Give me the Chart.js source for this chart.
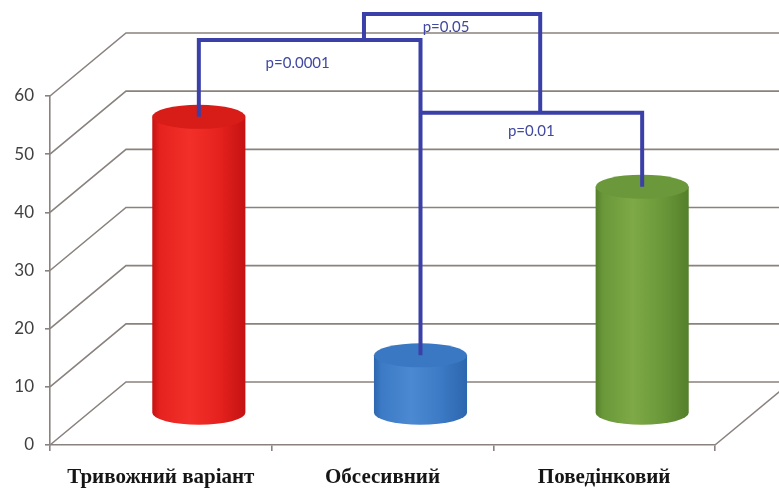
<!DOCTYPE html>
<html>
<head>
<meta charset="utf-8">
<script src="https://cdn.jsdelivr.net/npm/chart.js@4/dist/chart.umd.min.js"></script>
<style>
  html, body { margin: 0; padding: 0; background: #fff; }
</style>
</head>
<body>
<canvas id="c" width="779" height="495"></canvas>
<script>
// Дані діаграми
var categories = ['Тривожний варіант', 'Обсесивний', 'Поведінковий'];
var values = [51, 10, 39];
var yTicks = [0, 10, 20, 30, 40, 50, 60];

// Рівні значущості: підписи та висота дужок (в одиницях осі Y)
var pLabels = ['p=0.0001', 'p=0.05', 'p=0.01'];
var pLevels = [64.2, 68.7, 51.7];

// Кольори циліндрів: край, світла смуга, верх
var cylColors = [
  { edge: '#c41212', light: '#f23029', mid: '#e6221e', top: '#d81c18' },
  { edge: '#2c66ae', light: '#4b8ad2', mid: '#3c7ac5', top: '#3a78c3' },
  { edge: '#557f2b', light: '#7ea946', mid: '#6a9839', top: '#6a983b' }
];

var gridColor = '#8a827f';
var bracketColor = '#3b40a8';
var DX = 76, DY = -63;   // зсув задньої стінки (псевдо-3D)

var wall = {
  id: 'wall',
  beforeDatasetsDraw: function(chart) {
    var ctx = chart.ctx, a = chart.chartArea, y = chart.scales.y;
    ctx.save();
    ctx.strokeStyle = gridColor;
    ctx.lineWidth = 1.6;
    yTicks.forEach(function(v) {
      var py = y.getPixelForValue(v);
      ctx.beginPath();
      ctx.moveTo(a.left, py);
      ctx.lineTo(a.left + DX, py + DY);
      ctx.lineTo(chart.width, py + DY);
      ctx.stroke();
    });
    // права грань підлоги
    ctx.beginPath();
    ctx.moveTo(a.right, a.bottom);
    ctx.lineTo(a.right + DX, a.bottom + DY);
    ctx.stroke();
    ctx.restore();
  },
  afterDatasetsDraw: function(chart) {
    var ctx = chart.ctx;
    var meta = chart.getDatasetMeta(0);
    meta.data.forEach(function(bar, i) {
      var c = cylColors[i];
      var cx = bar.x + DX / 2, rx = bar.width / 2, ry = 12;
      var top = bar.y + DY / 2, bot = bar.base + DY / 2;
      var g = ctx.createLinearGradient(cx - rx, 0, cx + rx, 0);
      g.addColorStop(0, c.edge);
      g.addColorStop(0.08, c.mid);
      g.addColorStop(0.4, c.light);
      g.addColorStop(0.72, c.mid);
      g.addColorStop(1, c.edge);
      ctx.save();
      ctx.fillStyle = g;
      ctx.beginPath();
      ctx.moveTo(cx - rx, top);
      ctx.lineTo(cx - rx, bot);
      ctx.ellipse(cx, bot, rx, ry, 0, Math.PI, 0, true);
      ctx.lineTo(cx + rx, top);
      ctx.closePath();
      ctx.fill();
      ctx.fillStyle = c.top;
      ctx.beginPath();
      ctx.ellipse(cx, top, rx, ry, 0, 0, Math.PI * 2);
      ctx.fill();
      ctx.restore();
    });
  },
  afterDraw: function(chart) {
    var ctx = chart.ctx, y = chart.scales.y;
    var bars = chart.getDatasetMeta(0).data;
    var t = bars.map(function(b) { return { x: b.x + DX / 2, y: b.y + DY / 2 }; });
    var L = pLevels.map(function(v) { return y.getPixelForValue(v) + DY / 2; });
    var xa = t[0].x + 0.745 * (t[1].x - t[0].x);
    var xb = t[1].x + 0.54 * (t[2].x - t[1].x);

    ctx.save();
    ctx.strokeStyle = bracketColor;
    ctx.lineWidth = 4;
    ctx.beginPath();
    ctx.moveTo(t[0].x, t[0].y);
    ctx.lineTo(t[0].x, L[0]);
    ctx.lineTo(t[1].x, L[0]);
    ctx.lineTo(t[1].x, t[1].y);
    ctx.stroke();
    ctx.beginPath();
    ctx.moveTo(t[1].x, L[2]);
    ctx.lineTo(t[2].x, L[2]);
    ctx.lineTo(t[2].x, t[2].y);
    ctx.stroke();
    ctx.beginPath();
    ctx.moveTo(xa, L[0]);
    ctx.lineTo(xa, L[1]);
    ctx.lineTo(xb, L[1]);
    ctx.lineTo(xb, L[2]);
    ctx.stroke();

    ctx.fillStyle = '#4048a0';
    ctx.font = '15px Lato, "Open Sans", sans-serif';
    ctx.textAlign = 'center';
    ctx.textBaseline = 'middle';
    ctx.fillText(pLabels[0], (t[0].x + t[1].x) / 2 - 12, L[0] + 23);
    ctx.fillText(pLabels[1], (xa + xb) / 2 - 6, L[1] + 13);
    ctx.fillText(pLabels[2], (t[1].x + t[2].x) / 2, L[2] + 18);
    ctx.restore();
  }
};

new Chart(document.getElementById('c'), {
  type: 'bar',
  data: {
    labels: categories,
    datasets: [{
      data: values,
      backgroundColor: 'rgba(0,0,0,0)',
      borderWidth: 0,
      categoryPercentage: 1,
      barPercentage: 0.42
    }]
  },
  options: {
    responsive: false,
    animation: false,
    layout: { padding: { top: 96, right: 64, left: 0, bottom: 0 } },
    plugins: { legend: { display: false }, tooltip: { enabled: false } },
    scales: {
      x: {
        ticks: { color: '#151515', font: { family: '"Liberation Serif", serif', size: 21, weight: 'bold' }, padding: 14 },
        grid: { drawOnChartArea: false, tickLength: 6, color: gridColor, lineWidth: 1.6, offset: true },
        border: { color: gridColor, width: 1.6 },
        afterFit: function(s) { s.height = 50; }
      },
      y: {
        min: 0, max: 60,
        afterBuildTicks: function(s) { s.ticks = yTicks.map(function(v) { return { value: v }; }); },
        ticks: { color: '#404040', font: { family: 'Lato, sans-serif', size: 17 }, padding: 11 },
        grid: { drawOnChartArea: false, tickLength: 5, color: gridColor, lineWidth: 1.6 },
        border: { color: gridColor, width: 1.6 },
        afterFit: function(s) { s.width = 50; }
      }
    }
  },
  plugins: [wall]
});
</script>
</body>
</html>
